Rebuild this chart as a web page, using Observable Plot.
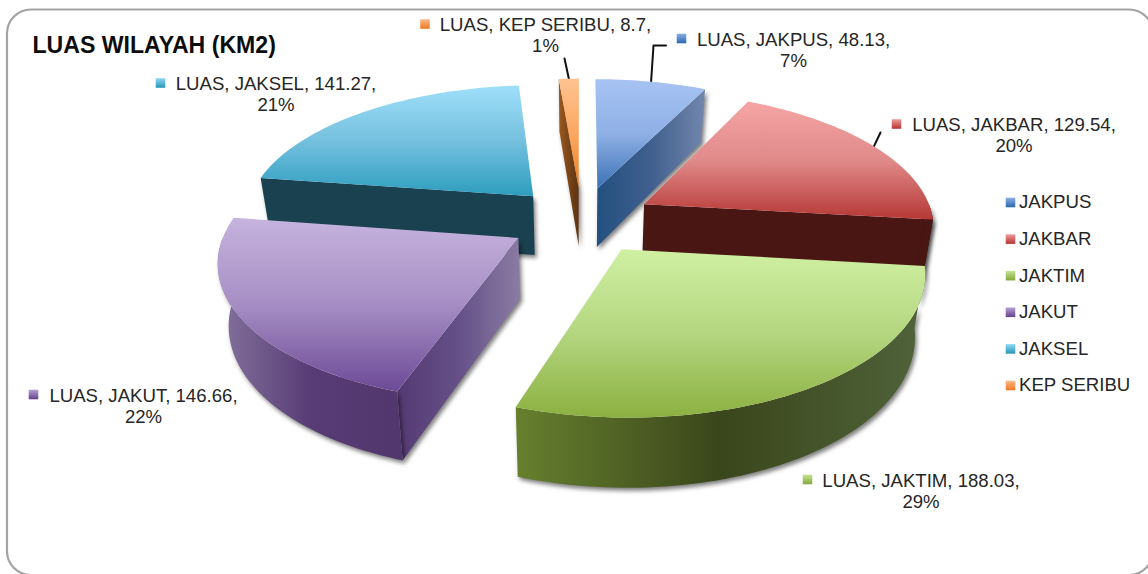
<!DOCTYPE html>
<html>
<head>
<meta charset="utf-8">
<script src="https://cdn.jsdelivr.net/npm/d3@7"></script>
<script src="https://cdn.jsdelivr.net/npm/@observablehq/plot@0.6"></script>
<style>
html,body{margin:0;padding:0;background:#fff;overflow:hidden}
svg{display:block}
g[fill^="url(#wall"]{filter:drop-shadow(2px 3px 2px rgba(0,0,0,.5))}
</style>
</head>
<body>
<div id="chart"></div>
<script>
// ---- data ----
const categories = ["JAKPUS","JAKBAR","JAKTIM","JAKUT","JAKSEL","KEP SERIBU"];
const luas = [48.13,129.54,188.03,146.66,141.27,8.7];
const valueLabels = ["48.13","129.54","188.03","146.66","141.27","8.7"];
const percentLabels = ["7%","20%","29%","22%","21%","1%"];
const title = "LUAS WILAYAH (KM2)";

// ---- styling ----
const topStops = [
  ["#a6c3f2","#8fb0e6","#3a71b4"],
  ["#f6a4a4","#e08a8a","#b63835"],
  ["#d0f0a2","#b4d680","#8cb040"],
  ["#c6b3de","#a68ec4","#6c4a96"],
  ["#9fdffa","#74c0de","#2e9dbf"],
  ["#ffc391","#fba862","#e87f1f"]
];
const wallStops = [
  ["#23507f","#405f8e","#7286ad"],
  ["#4a1614","#4a1614","#4a1614"],
  ["#66802e","#3a461b","#50633a"],
  ["#85739e","#573c75","#52376e"],
  ["#1a414f","#1a414f","#1a414f"],
  ["#9c5a20","#7a4518","#5c3312"]
];
const faceStops = {3:["#553a72","#655088","#8b7ca3"]};
const swatchStops = [
  ["#88aee6","#2f66ae"],["#ee9c9a","#b53431"],["#c4e294","#85a93b"],
  ["#b7a0d4","#64408f"],["#90d8f3","#2795b8"],["#fdb98a","#ef7a20"]
];

// ---- layout (page space) ----
const W = 1148, H = 574;
const pie = {cx:581, cy:219.6, explode:0.25, R:290, Q:134, k:0.147, depth:60, lowerScale:0.97};
const labelAt = [[793,49],[1013.5,134.5],[920.5,490],[143,405],[275.5,93.5],[545,34.5]];
const markerOffset = [112,117.5,113.5,110,115.5,120.5];
const leaderEnds = {0:[[653,45],[665.5,45]],1:[[880,132]],5:[[564,58]]};
const legendX = 1010, legendY0 = 202, legendStep = 36.6;

// ---- geometry derived from the values ----
const rad = Math.PI/180;
const arcs = d3.pie().sort(null).startAngle(0).endAngle(2*Math.PI)(luas);
const project = (gx,gy) => {
  const s = 1/(1+pie.k*gy);
  return {x:pie.cx+pie.R*gx*s, y:pie.cy-pie.Q*gy*s, s};
};
const lower = p => ({x:pie.cx+(p.x-pie.cx)*pie.lowerScale, y:p.y+pie.depth*Math.pow(p.s,0.8)});
function slice(i){
  const a = arcs[i], mid = (a.startAngle+a.endAngle)/2;
  const ox = pie.explode*Math.sin(mid), oy = pie.explode*Math.cos(mid);
  const rim = t => project(ox+Math.sin(t), oy+Math.cos(t));
  const samples = (t0,t1) => {
    const n = Math.max(2,Math.ceil((t1-t0)/(1.5*rad)));
    return d3.range(n+1).map(j => t0+(t1-t0)*j/n);
  };
  const apex = project(ox,oy), t0=a.startAngle, t1=a.endAngle;
  const top = [apex, ...samples(t0,t1).map(rim)];
  const walls = [];
  const radial = t => [apex, rim(t), lower(rim(t)), lower(apex)];
  if (Math.cos(t1+Math.PI/2) < -0.01) walls.push({pts:radial(t1), kind:"face"});
  if (Math.cos(t0-Math.PI/2) < -0.01) walls.push({pts:radial(t0), kind:"face"});
  const r0 = Math.max(t0,Math.PI/2), r1 = Math.min(t1,1.5*Math.PI);
  if (r1>r0){
    const ts = samples(r0,r1).map(rim);
    walls.push({pts:[...ts,...ts.slice().reverse().map(lower)], kind:"rim"});
  }
  return {i, top, walls, rim, mid};
}
const slices = categories.map((_,i)=>slice(i));

const defs = () => {
  const d = d3.create("svg:defs");
  const grad = (id,stops,horizontal) => {
    const g = d.append("linearGradient").attr("id",id)
      .attr("x1",0).attr("y1",0).attr("x2",horizontal?1:0).attr("y2",horizontal?0:1);
    stops.forEach((c,j)=>g.append("stop").attr("offset",j/(stops.length-1)).attr("stop-color",c));
  };
  categories.forEach((_,i)=>{
    grad("top"+i,topStops[i],false);
    grad("wall"+i,wallStops[i],true);
    grad("wallface"+i,faceStops[i]||wallStops[i],true);
    grad("sw"+i,swatchStops[i],false);
  });
  return d.node();
};

const poly = (pts,fill) => Plot.line(pts,{x:"x",y:"y",fill,stroke:"none",curve:"linear"});
const drawOrder = [0,5,4,1,3,2];
const sliceMarks = drawOrder.flatMap(i=>{
  const s = slices[i];
  return [
    ...s.walls.map(w=>poly(w.pts,`url(#${w.kind==="face"?"wallface":"wall"}${i})`)),
    poly(s.top,`url(#top${i})`)
  ];
});

// leader lines start on the rim at each slice's middle angle
const leaders = Object.entries(leaderEnds).map(([i,ends])=>{
  const s = slices[+i];
  return Plot.line([s.rim(s.mid),...ends.map(([x,y])=>({x,y}))],{x:"x",y:"y",stroke:"#111",strokeWidth:2});
});

const labels = categories.flatMap((c,i)=>{
  const [x,y] = labelAt[i];
  return [
    Plot.text([0],{x:()=>x,y:()=>y,text:()=>`LUAS, ${c}, ${valueLabels[i]},\n${percentLabels[i]}`,
      fontSize:18.6,lineHeight:1.13,fill:"#262626",textAnchor:"middle",lineAnchor:"middle"}),
    Plot.dot([0],{x:()=>x-markerOffset[i],y:()=>y-11,symbol:"square",r:5.4,fill:`url(#sw${i})`,stroke:"none"})
  ];
});
const legend = categories.flatMap((c,i)=>{
  const y = legendY0+i*legendStep;
  return [
    Plot.dot([0],{x:()=>legendX,y:()=>y,symbol:"square",r:5.4,fill:`url(#sw${i})`,stroke:"none"}),
    Plot.text([c],{x:()=>legendX+8.5,y:()=>y,text:d=>d,fontSize:18.6,fill:"#262626",textAnchor:"start"})
  ];
});

const chart = Plot.plot({
  width:W, height:H, margin:0,
  style:{fontFamily:"'Liberation Sans',Arial,sans-serif",background:"#fff"},
  x:{domain:[0,W],range:[0,W],axis:null},
  y:{domain:[0,H],range:[0,H],axis:null},
  marks:[
    defs,
    Plot.rect([0],{x1:()=>7,x2:()=>1153,y1:()=>9.5,y2:()=>575,rx:24,fill:"#fff",stroke:"#a3a3a3",strokeWidth:2.2}),
    ...leaders,
    ...sliceMarks,
    ...labels,
    ...legend,
    Plot.text([title],{x:()=>32,y:()=>45.5,text:d=>d,fontSize:23.1,fontWeight:"bold",fill:"#0d0d0d",textAnchor:"start"})
  ]
});
document.getElementById("chart").appendChild(chart);
</script>
</body>
</html>
